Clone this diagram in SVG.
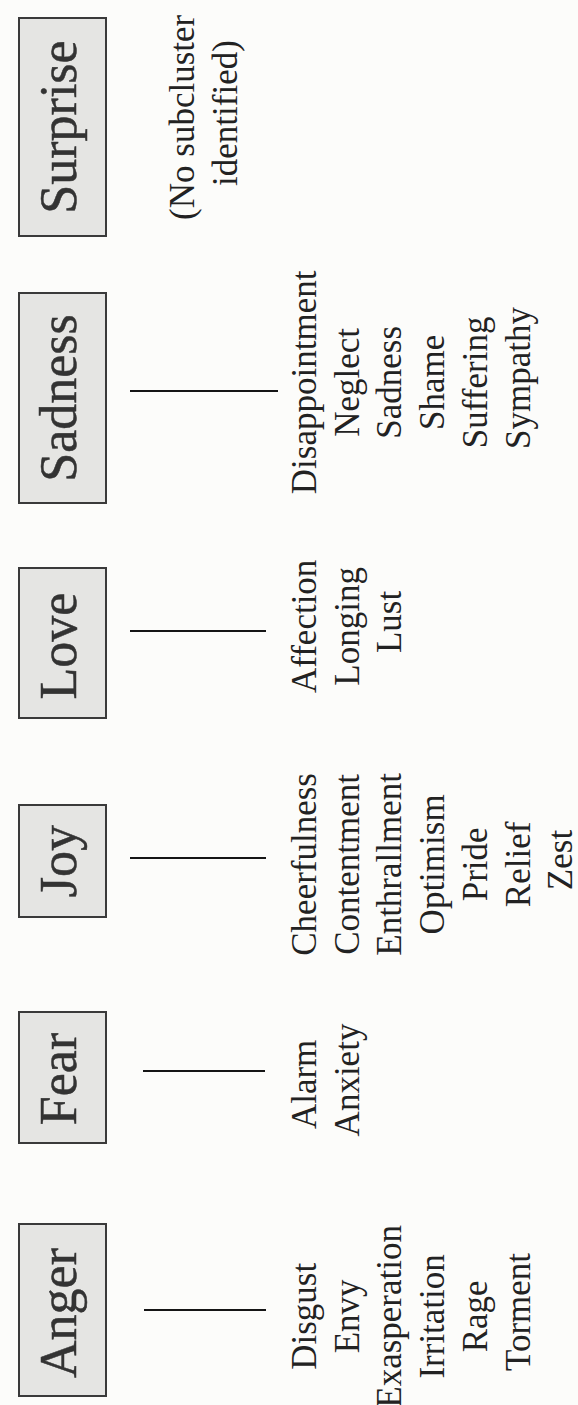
<svg xmlns="http://www.w3.org/2000/svg" width="578" height="1405" viewBox="0 0 578 1405">
  <style>
    .box { fill: #e5e5e3; stroke: #3a3a3a; stroke-width: 2; }
    .label { font-family: "Liberation Serif", "Times New Roman", serif; font-size: 52px; fill: #333; stroke: #333; stroke-width: 0.5; text-anchor: middle; }
    .list { font-family: "Liberation Serif", "Times New Roman", serif; font-size: 35px; fill: #222; text-anchor: middle; }
    .link { stroke: #151515; stroke-width: 2.2; fill: none; }
  </style>
  <rect width="578" height="1405" fill="#fcfcfa"/>

  <!-- emotion category boxes; text reads bottom-to-top -->
  <g id="surprise">
    <rect class="box" x="19" y="18" width="87" height="218"/>
    <text class="label" transform="translate(76,127) rotate(-90)">Surprise</text>
  </g>
  <g id="sadness">
    <rect class="box" x="19" y="293" width="87" height="210"/>
    <text class="label" transform="translate(76,398) rotate(-90)">Sadness</text>
  </g>
  <g id="love">
    <rect class="box" x="19" y="568" width="87" height="150"/>
    <text class="label" transform="translate(76,646) rotate(-90)">Love</text>
  </g>
  <g id="joy">
    <rect class="box" x="19" y="805" width="87" height="112"/>
    <text class="label" transform="translate(76,861) rotate(-90)">Joy</text>
  </g>
  <g id="fear">
    <rect class="box" x="19" y="1012" width="87" height="131"/>
    <text class="label" transform="translate(76,1079) rotate(-90)">Fear</text>
  </g>
  <g id="anger">
    <rect class="box" x="19" y="1224" width="87" height="172"/>
    <text class="label" transform="translate(76,1313) rotate(-90)">Anger</text>
  </g>

  <!-- connectors from each category to its subclusters -->
  <g id="connectors">
    <line class="link" x1="130" y1="391" x2="278" y2="391"/>
    <line class="link" x1="130" y1="631" x2="266" y2="631"/>
    <line class="link" x1="130" y1="858" x2="266" y2="858"/>
    <line class="link" x1="143" y1="1071" x2="265" y2="1071"/>
    <line class="link" x1="144" y1="1310" x2="266" y2="1310"/>
  </g>

  <!-- subcluster lists -->
  <g id="surprise-sub">
    <text class="list" transform="translate(194,113) rotate(-90)">
      <tspan x="0" y="0">(No subcluster</tspan>
      <tspan x="0" dy="43">identified)</tspan>
    </text>
  </g>
  <g id="sadness-sub">
    <text class="list" transform="translate(316,378) rotate(-90)">
      <tspan x="0" y="0">Disappointment</tspan>
      <tspan x="0" dy="42.7">Neglect</tspan>
      <tspan x="0" dy="42.7">Sadness</tspan>
      <tspan x="0" dy="42.7">Shame</tspan>
      <tspan x="0" dy="42.7">Suffering</tspan>
      <tspan x="0" dy="42.7">Sympathy</tspan>
    </text>
  </g>
  <g id="love-sub">
    <text class="list" transform="translate(316,622) rotate(-90)">
      <tspan x="0" y="0">Affection</tspan>
      <tspan x="0" dy="42.7">Longing</tspan>
      <tspan x="0" dy="42.7">Lust</tspan>
    </text>
  </g>
  <g id="joy-sub">
    <text class="list" transform="translate(316,860) rotate(-90)">
      <tspan x="0" y="0">Cheerfulness</tspan>
      <tspan x="0" dy="42.7">Contentment</tspan>
      <tspan x="0" dy="42.7">Enthrallment</tspan>
      <tspan x="0" dy="42.7">Optimism</tspan>
      <tspan x="0" dy="42.7">Pride</tspan>
      <tspan x="0" dy="42.7">Relief</tspan>
      <tspan x="0" dy="42.7">Zest</tspan>
    </text>
  </g>
  <g id="fear-sub">
    <text class="list" transform="translate(316,1080) rotate(-90)">
      <tspan x="0" y="0">Alarm</tspan>
      <tspan x="0" dy="42.7">Anxiety</tspan>
    </text>
  </g>
  <g id="anger-sub">
    <text class="list" transform="translate(316,1312) rotate(-90)">
      <tspan x="0" y="0">Disgust</tspan>
      <tspan x="0" dy="42.7">Envy</tspan>
      <tspan x="0" dy="42.7">Exasperation</tspan>
      <tspan x="0" dy="42.7">Irritation</tspan>
      <tspan x="0" dy="42.7">Rage</tspan>
      <tspan x="0" dy="42.7">Torment</tspan>
    </text>
  </g>
</svg>
